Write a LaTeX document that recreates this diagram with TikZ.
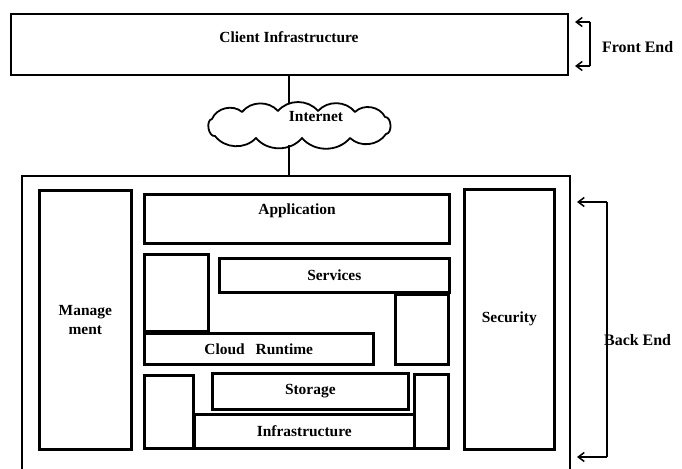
\documentclass[tikz,border=0pt]{standalone}
\usepackage{fontspec}
\setmainfont{Liberation Serif}
\usetikzlibrary{arrows.meta}
\begin{document}
\begin{tikzpicture}[x=1bp,y=-1bp,
  txt/.style={font=\bfseries\fontsize{15.5}{17}\selectfont},
  box/.style={draw, line width=2.6bp, inner sep=0pt, anchor=north west, txt},
  frame/.style={draw, line width=1.8bp, inner sep=0pt, anchor=north west},
  lbl/.style={txt, inner sep=0pt},
  side/.style={font=\bfseries\fontsize{16}{18}\selectfont, inner sep=0pt, anchor=west},
  link/.style={line width=1.3bp},
  puff/.style={bend left=#1},
  brace/.style={line width=1.5bp, -{Straight Barb[length=6bp,width=9bp]}}]
\useasboundingbox (0,0) rectangle (682,469);

% front end
\node[frame, minimum width=557bp, minimum height=61bp] (client) at (10,13) {};
\node[lbl] (clienttxt) at (289,37) {Client Infrastructure};

% internet cloud outline
\draw[line width=1.8bp, line join=round]
  (212,119) to[puff=55] (242,112) to[puff=50] (278,111) to[puff=50] (318,111)
  to[puff=50] (355,112) to[puff=55] (385,117) to[puff=90] (386,134)
  to[puff=50] (350,138) to[puff=50] (302,138) to[puff=50] (256,138)
  to[puff=50] (215,136) to[puff=90] cycle;
\node[lbl] (nettxt) at (316,117) {Internet};

% back end frame (runs past the lower edge)
\node[frame, minimum width=548bp, minimum height=320bp] (back) at (21,175) {};

% links through the internet cloud
\coordinate (c1) at (289,74);
\coordinate (c2) at (289,104);
\coordinate (c3) at (289,145);
\coordinate (c4) at (289,175);
\draw[link] (c1) -- (c2);
\draw[link] (c3) -- (c4);

% side columns
\node[box, minimum width=92bp, minimum height=259bp, align=center] (mgmt) at (38,189) {Manage\\[2pt]ment};
\node[box, minimum width=90bp, minimum height=260bp] (sec) at (463,188) {Security};

% layers
\node[box, minimum width=305bp, minimum height=49bp] (app) at (143,193) {};
\node[lbl] (apptxt) at (297,211) {Application};

\node[box, minimum width=64bp, minimum height=77bp] (svcl) at (143,253) {};
\node[box, minimum width=230bp, minimum height=34bp] (svc) at (218,257) {Services};
\node[box, minimum width=53bp, minimum height=70bp] (svcr) at (394,293) {};
\node[box, minimum width=229bp, minimum height=31bp] (rt) at (143,332) {Cloud\hspace{0.7em}Runtime};

\node[box, minimum width=49bp, minimum height=73bp] (infl) at (143,374) {};
\node[box, minimum width=196bp, minimum height=36bp] (sto) at (211,372) {Storage};
\node[box, minimum width=220bp, minimum height=34bp] (inf) at (193,413) {Infrastructure};
\node[box, minimum width=34bp, minimum height=74bp] (infr) at (413,373) {};

% brackets
\coordinate (fa) at (575,22);
\coordinate (fb) at (575,66);
\draw[brace] (590,22) -- (fa);
\draw[brace] (590,66) -- (fb);
\draw[line width=1.5bp] (590,22) -- (590,66);
\node[side] (fe) at (602,47) {Front End};

\coordinate (ba) at (577,202);
\coordinate (bb) at (577,457);
\draw[brace] (607,202) -- (ba);
\draw[brace] (607,457) -- (bb);
\draw[line width=1.5bp] (607,202) -- (607,457);
\node[side] (be) at (604,340) {Back End};
\end{tikzpicture}
\end{document}
